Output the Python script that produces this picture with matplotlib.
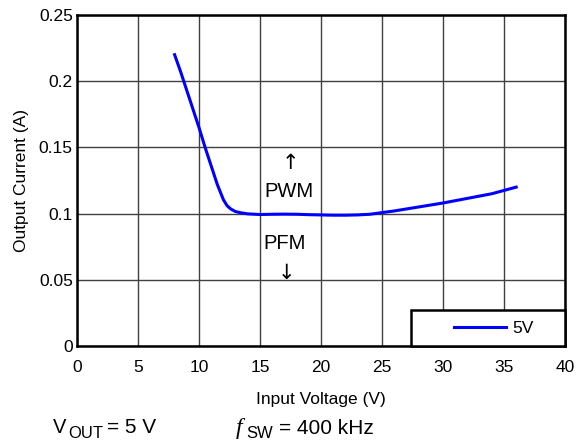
import matplotlib
matplotlib.use("Agg")
import matplotlib.pyplot as plt
from matplotlib.patches import Rectangle

plt.rcParams['font.family'] = ['Liberation Sans', 'DejaVu Sans']

vin = [8, 8.5, 9, 9.5, 10, 10.5, 11, 11.5, 12, 12.3, 12.6, 13, 13.5, 14, 15, 16, 17, 18, 19, 20, 21, 22, 23, 24, 26, 28, 30, 32, 34, 36]
iout = [0.220, 0.207, 0.193, 0.179, 0.165, 0.150, 0.136, 0.122, 0.1105, 0.106, 0.1035, 0.1015, 0.1005, 0.0998, 0.0993, 0.0995, 0.0996, 0.0995, 0.0992, 0.0990, 0.0988, 0.0988, 0.0990, 0.0995, 0.1020, 0.1050, 0.1080, 0.1115, 0.1150, 0.1200]
series_label = "5V"
xticks = [0, 5, 10, 15, 20, 25, 30, 35, 40]
yticks = [0, 0.05, 0.1, 0.15, 0.2, 0.25]
ytick_labels = ["0", "0.05", "0.1", "0.15", "0.2", "0.25"]

W, H = 576, 442
fig = plt.figure(figsize=(W/100, H/100), dpi=100)
ax = fig.add_axes([77/W, 1-346/H, (565-77)/W, (346-15)/H])
ax.plot(vin, iout, color='#0000ff', lw=2.2, label=series_label, zorder=3)
ax.set_xlim(0, 40)
ax.set_ylim(0, 0.25)
ax.set_xticks(xticks)
ax.set_yticks(yticks)
ax.set_yticklabels(ytick_labels)
ax.tick_params(axis='x', length=0, labelsize=12.5, pad=10, colors='black')
ax.tick_params(axis='y', length=0, labelsize=12.5, pad=3, colors='black')
ax.grid(True, color='#404040', lw=1)
for s in ax.spines.values():
    s.set_linewidth(1.8)
ax.set_xlabel("Input Voltage (V)", fontsize=12.5, labelpad=12)
ax.set_ylabel("Output Current (A)", fontsize=12.5, labelpad=7)

ax.text(17.5, 0.1385, "↑", fontsize=15, ha='center', va='center', family='DejaVu Sans')
ax.text(17.4, 0.1165, "PWM", fontsize=14.5, ha='center', va='center')
ax.text(17.0, 0.0775, "PFM", fontsize=14.5, ha='center', va='center')
ax.text(17.2, 0.0555, "↓", fontsize=15, ha='center', va='center', family='DejaVu Sans')

# legend box
ax.add_patch(Rectangle(((411-77)/488, 0), 1-(411-77)/488, 36/331, transform=ax.transAxes,
                       facecolor='white', edgecolor='black', lw=1.8, zorder=4, clip_on=False))
leg = ax.legend(loc='center right', bbox_to_anchor=(0.935, 0.054), fontsize=12.5, frameon=False,
                borderaxespad=0, handlelength=3.0, borderpad=0, handletextpad=0.35)
leg.set_zorder(5)

def ftext(x, y, s, size, **kw):
    fig.text(x/W, 1-y/H, s, fontsize=size, va='baseline', ha='left', **kw)

ftext(53, 433, "V", 14.5)
ftext(68, 438, "OUT", 12)
ftext(107, 433, "= 5 V", 15)
ftext(236, 434, "f", 17, family='Liberation Serif', style='italic')
ftext(246, 438, "SW", 12)
ftext(279, 434, "= 400 kHz", 15)

fig.savefig("out.png", dpi=100)
